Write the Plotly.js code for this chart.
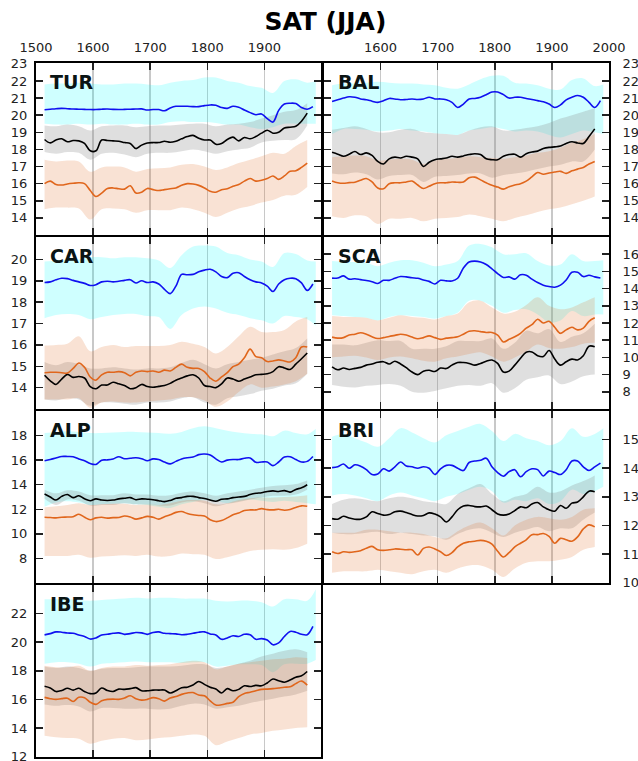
<!DOCTYPE html>
<html>
<head>
<meta charset="utf-8">
<script src="https://cdn.plot.ly/plotly-3.0.1.min.js"></script>
<style>html,body{margin:0;padding:0;background:#fff;}#chart{width:638px;height:761px;}</style>
</head>
<body>
<div id="chart"></div>
<script>
// ---- x positions (years) ----
const yearsLine = [1515,1525,1535,1545,1555,1565,1575,1585,1595,1605,1615,1625,1635,1645,1655,1665,1675,1685,1695,1705,1715,1725,1735,1745,1755,1765,1775,1785,1795,1805,1815,1825,1835,1845,1855,1865,1875,1885,1895,1905,1915,1925,1935,1945,1955,1965,1975];
const yearsBlue = [1515,1525,1535,1545,1555,1565,1575,1585,1595,1605,1615,1625,1635,1645,1655,1665,1675,1685,1695,1705,1715,1725,1735,1745,1755,1765,1775,1785,1795,1805,1815,1825,1835,1845,1855,1865,1875,1885,1895,1905,1915,1925,1935,1945,1955,1965,1975,1985];
const yearsBand = [1515,1535,1555,1575,1595,1615,1635,1655,1675,1695,1715,1735,1755,1775,1795,1815,1835,1855,1875,1895,1915,1935,1955,1975];
const yearsCyan = [1515,1535,1555,1575,1595,1615,1635,1655,1675,1695,1715,1735,1755,1775,1795,1815,1835,1855,1875,1895,1915,1935,1955,1975,1990];

// ---- top axis tick labels ----
const xTickVals = [1500,1600,1700,1800,1900,2000];
const xTickTextLeft = ['1500','1600','1700','1800','1900',''];
const xTickTextRight = ['','1600','1700','1800','1900','2000'];
const xGridVals = [1600,1700,1800,1900];

// ---- y tick labels per panel ----
const TUR_ticks = [14,15,16,17,18,19,20,21,22,23];
const BAL_ticks = [14,15,16,17,18,19,20,21,22,23];
const CAR_ticks = [14,15,16,17,18,19,20];
const SCA_ticks = [8,9,10,11,12,13,14,15,16];
const ALP_ticks = [8,10,12,14,16,18];
const BRI_ticks = [10,11,12,13,14,15];
const IBE_ticks = [12,14,16,18,20,22];

// ---- TUR ----
const TUR_blue = [20.32,20.35,20.38,20.40,20.38,20.36,20.35,20.34,20.33,20.33,20.35,20.36,20.34,20.33,20.34,20.35,20.36,20.37,20.30,20.33,20.33,20.26,20.42,20.52,20.52,20.52,20.50,20.50,20.56,20.60,20.58,20.45,20.40,20.52,20.46,20.30,20.15,20.03,20.07,19.80,19.60,20.28,20.65,20.70,20.68,20.45,20.35,20.50];
const TUR_black = [18.58,18.38,18.55,18.62,18.45,18.52,18.50,18.35,17.92,17.92,18.55,18.52,18.50,18.48,18.40,18.35,18.05,18.25,18.38,18.40,18.40,18.48,18.42,18.48,18.62,18.75,18.82,18.65,18.55,18.55,18.30,18.35,18.58,18.72,18.50,18.70,18.62,18.75,18.95,19.12,18.95,19.00,19.25,19.30,19.35,19.65,20.12];
const TUR_orange = [16.00,16.15,15.95,15.92,15.98,16.02,16.05,16.00,15.60,15.25,15.45,15.72,15.75,15.70,15.68,15.88,15.45,15.50,15.72,15.65,15.60,15.65,15.70,15.75,15.90,16.00,15.98,15.90,15.75,15.55,15.50,15.65,15.70,15.85,15.95,16.15,16.30,16.15,16.20,16.30,16.45,16.25,16.45,16.72,16.75,16.95,17.20];
const TUR_cyanHi = [21.8,21.85,21.85,21.9,21.85,21.8,21.8,21.85,21.85,21.8,21.75,21.9,22.0,22.05,22.2,22.2,22.0,21.9,21.7,21.6,21.3,22.0,22.1,21.9,22.0];
const TUR_cyanLo = [19.5,19.45,19.45,19.5,19.45,19.5,19.45,19.45,19.5,19.45,19.45,19.6,19.65,19.6,19.6,19.55,19.45,19.45,19.3,19.2,19.3,19.5,19.5,19.5,19.5];
const TUR_grayHi = [19.4,19.35,19.45,19.35,19.1,19.35,19.4,19.4,19.3,19.35,19.4,19.4,19.45,19.5,19.5,19.35,19.45,19.5,19.6,19.8,20.0,20.2,20.3,20.7];
const TUR_grayLo = [17.85,17.75,17.85,17.8,17.4,17.75,17.8,17.7,17.55,17.75,17.8,17.8,17.9,18.0,17.9,17.75,17.9,18.0,18.1,18.4,18.5,18.55,18.6,19.4];
const TUR_orHi = [17.4,17.3,17.35,17.3,16.7,16.95,17.0,16.95,16.7,16.85,16.9,16.95,17.1,17.15,17.0,16.8,16.95,17.2,17.4,17.6,17.8,17.75,18.2,18.55];
const TUR_orLo = [14.5,14.6,14.6,14.55,13.9,14.5,14.55,14.5,14.3,14.45,14.45,14.45,14.6,14.5,14.3,14.05,14.3,14.55,14.7,14.9,15.05,15.3,15.35,15.8];

// ---- BAL ----
const BAL_blue = [20.8,20.9,21.0,21.08,21.05,20.95,20.9,20.82,20.75,20.85,20.98,20.95,20.9,20.92,20.95,20.92,20.95,21.05,20.95,20.95,20.9,20.75,20.45,20.65,20.95,20.98,21.05,21.2,21.35,21.35,21.2,21.0,21.05,21.05,20.98,20.92,20.85,20.78,20.65,20.45,20.6,20.9,21.05,21.15,21.05,20.75,20.45,20.85];
const BAL_black = [17.83,17.72,17.6,17.72,17.88,17.7,17.8,17.65,17.3,17.15,17.45,17.55,17.5,17.6,17.55,17.45,17.0,17.25,17.4,17.45,17.5,17.6,17.55,17.62,17.7,17.75,17.7,17.45,17.4,17.4,17.6,17.7,17.72,17.55,17.75,17.85,17.9,18.05,18.12,18.15,18.2,18.35,18.45,18.38,18.35,18.75,19.2];
const BAL_orange = [16.16,16.05,16.02,16.06,16.08,16.2,16.3,16.1,15.75,15.7,16.0,16.05,16.05,16.1,16.15,15.92,15.72,15.85,16.0,16.05,16.05,16.1,16.08,16.1,16.35,16.38,16.22,16.05,15.9,15.8,15.68,15.82,15.92,16.0,16.15,16.4,16.65,16.55,16.62,16.68,16.72,16.6,16.75,16.85,16.95,17.15,17.3];
const BAL_cyanHi = [21.75,21.85,21.85,21.9,21.95,21.9,21.85,21.85,21.8,21.75,21.6,21.55,21.8,22.1,22.3,22.3,21.9,21.85,21.75,21.55,21.5,22.05,22.15,21.7,21.8];
const BAL_cyanLo = [18.9,19.2,19.2,19.15,19.05,19.1,19.2,19.1,19.05,18.95,18.9,18.85,19.1,19.2,19.3,19.2,19.05,19.1,19.05,18.85,18.7,18.9,19.1,19.0,18.9];
const BAL_grayHi = [19.15,19.25,19.35,19.2,19.0,19.0,19.15,19.2,19.0,18.95,18.9,18.85,19.1,19.3,19.35,19.1,19.15,19.25,19.35,19.55,19.8,20.0,20.2,20.4];
const BAL_grayLo = [16.6,16.55,16.65,16.55,16.25,16.45,16.5,16.5,16.1,16.4,16.45,16.5,16.6,16.6,16.35,16.5,16.6,16.7,16.85,17.0,17.1,17.3,17.3,18.0];
const BAL_orHi = [17.55,17.6,17.65,17.6,17.35,17.4,17.45,17.4,17.15,17.35,17.45,17.5,17.6,17.55,17.5,17.45,17.55,17.65,17.8,17.9,18.1,18.4,18.6,18.9];
const BAL_orLo = [14.1,14.0,14.15,14.1,13.65,13.95,13.95,14.0,13.8,13.95,14.0,14.05,14.2,14.1,13.95,13.8,14.0,14.15,14.35,14.5,14.6,14.8,15.0,15.25];

// ---- CAR ----
const CAR_blue = [18.92,18.95,19.05,19.12,19.1,19.02,18.95,18.88,18.78,18.82,18.95,18.98,18.95,18.98,19.02,19.05,18.9,19.0,18.92,18.95,18.85,18.6,18.4,18.75,19.3,19.28,19.3,19.42,19.5,19.54,19.42,19.2,19.15,19.35,19.38,19.2,19.05,18.95,18.9,18.75,18.5,18.85,19.05,19.12,19.1,18.9,18.55,18.85];
const CAR_black = [14.58,14.32,14.15,14.4,14.62,14.48,14.52,14.45,14.05,13.95,14.12,14.12,14.25,14.18,14.1,13.95,14.0,14.15,14.05,14.02,14.06,14.1,14.2,14.35,14.45,14.55,14.6,14.45,14.1,14.05,14.0,14.18,14.45,14.4,14.3,14.4,14.5,14.6,14.62,14.65,14.75,14.98,14.92,14.85,15.1,15.35,15.62];
const CAR_orange = [14.7,14.72,14.72,14.7,14.68,14.9,15.15,14.95,14.5,14.35,14.6,14.72,14.72,14.75,14.7,14.55,14.72,14.78,14.75,14.78,14.72,14.82,14.78,14.95,15.1,14.95,14.9,14.9,14.75,14.45,14.3,14.5,14.7,14.98,15.1,15.4,15.8,15.45,15.4,15.22,15.25,15.3,15.25,15.2,15.4,15.9,15.9];
const CAR_cyanHi = [19.9,19.95,20.0,20.0,20.1,20.1,20.05,20.1,20.1,20.05,19.95,19.6,20.2,20.6,20.65,20.6,20.3,20.2,20.0,19.9,19.65,20.3,20.25,19.95,19.9];
const CAR_cyanLo = [17.25,17.4,17.45,17.4,17.2,17.3,17.4,17.45,17.45,17.35,17.3,16.75,17.4,17.7,17.8,17.7,17.5,17.4,17.25,17.15,17.0,17.35,17.3,17.2,16.9];
const CAR_grayHi = [15.2,15.05,15.2,15.1,14.9,14.9,14.95,14.9,14.85,14.9,14.9,14.95,15.15,15.3,15.1,14.9,15.1,15.2,15.3,15.4,15.55,15.7,15.85,16.3];
const CAR_grayLo = [13.45,13.4,13.5,13.45,13.15,13.3,13.3,13.25,13.2,13.3,13.3,13.35,13.5,13.55,13.3,13.2,13.5,13.6,13.7,13.85,13.95,14.1,14.2,14.65];
const CAR_orHi = [15.97,16.0,16.05,16.4,15.7,15.9,16.0,15.9,15.95,15.95,15.95,16.0,16.15,16.05,15.9,15.6,15.9,16.4,16.85,16.6,16.6,16.7,17.1,17.3];
const CAR_orLo = [13.45,13.45,13.45,13.5,13.05,13.3,13.35,13.3,13.3,13.35,13.4,13.45,13.55,13.55,13.4,13.1,13.35,13.8,14.15,14.0,14.05,14.15,14.3,14.65];

// ---- SCA ----
const SCA_blue = [14.61,14.62,14.74,14.55,14.57,14.52,14.47,14.4,14.3,14.48,14.48,14.6,14.7,14.68,14.63,14.6,14.5,14.42,14.27,14.48,14.45,14.44,14.6,15.2,15.55,15.6,15.55,15.4,15.15,14.87,14.65,14.68,14.55,14.8,14.78,14.55,14.35,14.2,14.12,14.08,14.2,14.5,14.95,14.95,14.7,14.78,14.68,14.62];
const SCA_black = [9.45,9.28,9.38,9.3,9.36,9.42,9.55,9.62,9.72,9.75,9.62,9.78,9.62,9.4,9.15,9.0,9.2,9.25,9.18,9.38,9.35,9.55,9.7,9.7,9.65,9.55,9.65,9.78,9.85,9.65,9.15,9.2,9.55,9.95,10.3,10.32,10.1,10.05,10.4,9.9,9.55,9.75,9.9,9.85,10.1,10.65,10.62];
const SCA_orange = [11.18,11.12,11.15,11.3,11.35,11.43,11.35,11.2,11.1,11.15,11.22,11.28,11.35,11.3,11.18,11.08,11.15,11.25,11.15,11.05,11.12,11.15,11.2,11.35,11.52,11.55,11.5,11.45,11.45,11.3,10.9,11.05,11.2,11.4,11.7,11.9,12.22,12.0,12.1,11.75,11.4,11.6,11.75,11.6,11.7,12.1,12.3];
const SCA_cyanHi = [15.6,15.55,15.55,15.5,15.3,15.5,15.65,15.65,15.5,15.3,15.4,15.6,16.5,16.6,16.4,16.0,16.0,16.05,15.6,15.35,15.4,16.0,15.6,15.6,15.65];
const SCA_cyanLo = [12.45,12.4,12.35,12.3,12.15,12.35,12.45,12.4,12.35,12.25,12.4,12.6,13.3,13.3,13.0,12.6,12.75,12.8,12.5,12.05,12.15,12.7,12.4,12.5,12.5];
const SCA_grayHi = [10.75,10.75,10.7,10.85,11.0,10.95,10.95,10.5,10.5,10.5,10.65,10.95,10.95,10.95,11.1,10.5,10.85,11.55,11.4,11.65,10.9,11.2,11.4,11.95];
const SCA_grayLo = [8.4,8.3,8.25,8.35,8.4,8.45,8.35,8.0,7.95,8.05,8.2,8.35,8.4,8.35,8.5,7.95,8.2,8.7,8.85,8.95,8.45,8.6,8.9,9.0];
const SCA_orHi = [12.4,12.35,12.35,12.3,12.15,12.3,12.45,12.35,12.3,12.2,12.4,12.55,13.2,13.3,12.9,12.55,12.65,13.05,13.5,13.0,12.8,12.9,13.2,13.5];
const SCA_orLo = [10.0,10.05,10.1,10.0,9.85,10.0,10.05,9.95,9.8,9.75,9.95,10.05,10.2,10.3,10.05,9.75,10.0,10.35,10.75,10.55,10.5,10.6,10.8,10.85];

// ---- ALP ----
const ALP_blue = [15.95,16.05,16.18,16.3,16.3,16.28,16.1,15.95,15.72,15.65,16.0,16.02,16.1,16.28,16.12,16.15,16.2,16.12,15.95,16.1,16.05,15.85,15.7,15.9,16.1,16.2,16.25,16.45,16.5,16.42,16.1,15.85,16.0,16.05,16.05,16.15,16.18,15.82,15.85,15.85,15.55,15.85,16.25,16.28,16.05,15.85,15.9,16.3];
const ALP_black = [13.24,13.0,12.75,13.05,13.2,12.95,13.1,12.85,12.7,12.85,12.75,12.72,12.75,12.85,12.9,12.95,12.78,12.85,12.82,12.78,12.7,12.62,12.72,12.9,12.95,13.05,13.05,12.95,12.88,12.75,12.65,12.82,12.85,12.95,13.0,13.05,13.2,13.3,13.35,13.45,13.5,13.45,13.52,13.4,13.62,13.75,14.0];
const ALP_orange = [11.35,11.33,11.3,11.35,11.37,11.4,11.6,11.35,11.15,11.3,11.35,11.28,11.32,11.33,11.45,11.38,11.2,11.3,11.42,11.35,11.2,11.4,11.55,11.75,11.82,11.65,11.55,11.5,11.45,11.15,11.0,11.08,11.3,11.55,11.7,11.9,11.95,11.95,12.05,11.97,11.95,12.0,11.92,11.98,12.15,12.28,12.25];
const ALP_cyanHi = [18.2,18.3,18.35,18.3,18.2,18.2,18.25,18.3,18.3,18.25,18.2,18.15,18.3,18.6,18.75,18.6,18.4,18.25,18.15,18.1,17.95,18.4,18.2,18.1,18.55];
const ALP_cyanLo = [12.2,12.55,12.65,12.55,12.35,12.4,12.45,12.5,12.4,12.35,12.2,12.1,12.4,12.6,12.75,12.7,12.5,12.65,12.8,12.7,12.6,12.7,12.6,12.5,12.4];
const ALP_grayHi = [13.6,13.3,13.55,13.45,13.15,13.15,13.15,13.3,13.2,13.2,13.1,13.15,13.35,13.45,13.3,13.1,13.3,13.45,13.6,13.75,13.9,13.95,14.05,14.35];
const ALP_grayLo = [12.85,12.35,12.8,12.7,12.3,12.35,12.35,12.5,12.4,12.4,12.3,12.3,12.55,12.65,12.5,12.25,12.45,12.6,12.8,12.95,13.1,13.1,13.2,13.6];
const ALP_orHi = [12.15,12.25,12.35,12.5,12.35,12.4,12.45,12.45,12.35,12.4,12.35,12.5,12.7,12.75,12.7,12.4,12.5,12.75,12.9,12.95,12.95,13.0,13.05,13.15];
const ALP_orLo = [8.2,8.2,8.2,8.3,8.05,8.15,8.2,8.25,8.2,8.3,8.15,8.2,8.4,8.35,8.3,7.95,8.1,8.35,8.6,8.7,8.75,8.7,8.85,9.2];

// ---- BRI ----
const BRI_blue = [14.02,14.05,14.15,14.0,14.12,14.07,13.95,13.78,13.8,13.98,13.9,14.05,14.22,14.08,14.05,14.0,14.05,14.0,13.78,13.98,14.1,14.1,14.0,13.92,14.2,14.25,14.28,14.35,14.05,13.85,13.72,13.88,13.95,13.7,13.88,13.98,13.95,13.73,13.9,13.85,13.78,13.95,14.25,14.25,14.05,13.92,14.05,14.18];
const BRI_black = [12.24,12.22,12.32,12.26,12.22,12.22,12.3,12.48,12.42,12.36,12.38,12.48,12.5,12.45,12.38,12.33,12.35,12.44,12.4,12.3,12.12,12.3,12.55,12.68,12.7,12.66,12.65,12.68,12.55,12.4,12.36,12.4,12.52,12.65,12.62,12.75,12.8,12.65,12.55,12.5,12.7,12.6,12.78,12.82,13.0,13.2,13.18];
const BRI_orange = [11.08,11.02,11.08,11.06,11.08,11.12,11.2,11.27,11.15,11.13,11.15,11.18,11.17,11.15,11.15,10.97,11.2,11.25,11.18,11.08,10.95,11.05,11.25,11.38,11.43,11.45,11.48,11.45,11.35,11.1,10.9,11.05,11.25,11.38,11.5,11.68,11.68,11.72,11.62,11.38,11.55,11.5,11.45,11.6,11.88,12.02,11.95];
const BRI_cyanHi = [15.1,15.2,15.05,14.9,14.75,15.05,15.4,15.25,15.05,14.9,15.15,15.3,15.45,15.55,15.3,14.95,15.2,15.05,14.95,14.8,14.95,15.4,15.1,15.2,15.4];
const BRI_cyanLo = [13.05,13.1,13.05,12.95,12.85,13.05,13.15,13.05,12.95,12.85,13.0,13.1,13.25,13.35,13.2,12.8,12.9,12.85,12.95,12.75,12.85,13.25,13.1,13.2,13.35];
const BRI_grayHi = [12.75,12.9,12.95,12.9,12.85,12.95,13.0,12.95,12.85,12.8,12.75,13.1,13.3,13.45,13.1,12.85,13.0,13.1,13.35,13.15,13.2,13.4,13.55,13.75];
const BRI_grayLo = [11.75,11.7,11.7,11.75,11.78,11.7,11.75,11.7,11.65,11.62,11.5,11.7,11.85,11.9,11.75,11.6,11.75,11.85,11.95,11.8,11.9,11.9,12.2,12.45];
const BRI_orHi = [11.75,11.75,11.75,11.85,11.85,11.8,11.75,11.75,11.7,11.6,11.55,11.8,12.0,12.1,11.9,11.65,12.0,12.2,12.3,12.25,12.2,12.3,12.55,12.6];
const BRI_orLo = [10.35,10.4,10.4,10.4,10.45,10.4,10.35,10.3,10.4,10.45,10.35,10.5,10.6,10.6,10.45,10.2,10.5,10.7,10.75,10.75,10.8,10.9,11.15,11.25];

// ---- IBE ----
const IBE_blue = [20.51,20.6,20.72,20.7,20.64,20.62,20.5,20.4,20.22,20.3,20.5,20.55,20.62,20.65,20.55,20.6,20.68,20.65,20.55,20.68,20.72,20.62,20.6,20.58,20.52,20.55,20.62,20.7,20.72,20.58,20.5,20.2,20.3,20.45,20.4,20.55,20.52,20.2,20.25,20.15,19.82,19.95,20.4,20.75,20.7,20.55,20.52,21.1];
const IBE_black = [16.92,16.8,16.55,16.62,16.78,16.65,16.78,16.55,16.4,16.45,16.8,16.62,16.55,16.72,16.7,16.75,16.82,16.6,16.6,16.65,16.65,16.65,16.45,16.6,16.82,16.85,17.0,17.25,17.05,16.85,16.72,16.45,16.75,16.6,16.7,16.95,16.9,16.98,16.95,17.15,17.42,17.3,17.2,17.35,17.55,17.65,17.95];
const IBE_orange = [16.14,16.05,16.0,16.05,16.08,15.85,16.15,16.12,15.8,15.65,15.9,16.0,16.02,16.0,16.1,16.25,16.05,15.95,16.0,16.12,16.05,15.88,16.1,16.2,16.35,16.45,16.48,16.3,16.25,15.9,15.6,15.62,15.72,15.8,16.2,16.42,16.5,16.6,16.7,16.72,16.75,16.8,16.85,16.88,17.1,17.28,17.0];
const IBE_cyanHi = [23.0,23.0,23.0,22.95,22.9,22.95,23.0,23.05,23.1,23.05,23.1,23.1,23.05,23.05,23.05,22.9,22.85,22.9,22.9,22.8,22.5,23.0,23.0,22.9,23.7];
const IBE_cyanLo = [18.5,18.6,18.6,18.5,18.3,18.5,18.55,18.6,18.65,18.6,18.6,18.6,18.55,18.6,18.6,18.3,18.35,18.45,18.45,18.4,17.9,18.45,18.5,18.5,18.75];
const IBE_grayHi = [18.3,18.2,18.3,18.2,18.0,18.15,18.2,18.2,18.25,18.3,18.3,18.3,18.35,18.45,18.45,18.2,18.3,18.5,18.7,19.0,19.2,19.4,19.5,19.3];
const IBE_grayLo = [15.65,15.55,15.6,15.5,15.15,15.4,15.4,15.35,15.35,15.35,15.3,15.35,15.55,15.7,15.65,15.35,15.45,15.55,15.75,15.9,16.05,16.2,16.35,16.6];
const IBE_orHi = [18.35,18.25,18.25,18.35,18.0,18.2,18.3,18.3,18.4,18.35,18.4,18.45,18.6,18.7,18.6,18.1,18.3,18.5,18.6,18.7,18.8,18.85,18.95,18.9];
const IBE_orLo = [13.45,13.35,13.3,13.25,12.9,13.1,13.25,13.3,13.15,13.2,13.3,13.35,13.45,13.55,13.45,12.8,13.05,13.3,13.55,13.65,13.8,13.9,14.0,14.05];

// ---- panel assembly (layout only, data from the arrays above) ----
const panels = [
  {name:'TUR', col:0, row:0, yr:[13,23.05], ticks:TUR_ticks, blue:TUR_blue, black:TUR_black, orange:TUR_orange, cHi:TUR_cyanHi, cLo:TUR_cyanLo, gHi:TUR_grayHi, gLo:TUR_grayLo, oHi:TUR_orHi, oLo:TUR_orLo},
  {name:'BAL', col:1, row:0, yr:[13,23.05], ticks:BAL_ticks, blue:BAL_blue, black:BAL_black, orange:BAL_orange, cHi:BAL_cyanHi, cLo:BAL_cyanLo, gHi:BAL_grayHi, gLo:BAL_grayLo, oHi:BAL_orHi, oLo:BAL_orLo},
  {name:'CAR', col:0, row:1, yr:[13,21.05], ticks:CAR_ticks, blue:CAR_blue, black:CAR_black, orange:CAR_orange, cHi:CAR_cyanHi, cLo:CAR_cyanLo, gHi:CAR_grayHi, gLo:CAR_grayLo, oHi:CAR_orHi, oLo:CAR_orLo},
  {name:'SCA', col:1, row:1, yr:[7,17], ticks:SCA_ticks, blue:SCA_blue, black:SCA_black, orange:SCA_orange, cHi:SCA_cyanHi, cLo:SCA_cyanLo, gHi:SCA_grayHi, gLo:SCA_grayLo, oHi:SCA_orHi, oLo:SCA_orLo},
  {name:'ALP', col:0, row:2, yr:[6,20], ticks:ALP_ticks, blue:ALP_blue, black:ALP_black, orange:ALP_orange, cHi:ALP_cyanHi, cLo:ALP_cyanLo, gHi:ALP_grayHi, gLo:ALP_grayLo, oHi:ALP_orHi, oLo:ALP_orLo},
  {name:'BRI', col:1, row:2, yr:[9.99,16], ticks:BRI_ticks, blue:BRI_blue, black:BRI_black, orange:BRI_orange, cHi:BRI_cyanHi, cLo:BRI_cyanLo, gHi:BRI_grayHi, gLo:BRI_grayLo, oHi:BRI_orHi, oLo:BRI_orLo},
  {name:'IBE', col:0, row:3, yr:[11.97,24], ticks:IBE_ticks, blue:IBE_blue, black:IBE_black, orange:IBE_orange, cHi:IBE_cyanHi, cLo:IBE_cyanLo, gHi:IBE_grayHi, gLo:IBE_grayLo, oHi:IBE_orHi, oLo:IBE_orLo}
];

const FONT = 'DejaVu Sans, Liberation Sans, sans-serif';
const traces = [];
const layout = {
  width:638, height:761,
  margin:{l:36, r:29, t:63, b:4},
  paper_bgcolor:'#fff', plot_bgcolor:'rgba(0,0,0,0)',
  showlegend:false,
  title:{text:'<b>SAT (JJA)</b>', font:{family:FONT, size:25, color:'#000'}, xref:'container', x:0.51, xanchor:'center', yref:'container', y:0.972, yanchor:'middle'},
  annotations:[]
};

// domains leave a 2px gap so that the outward-drawn borders of neighbours coincide
const rowDomains = [[0.75216,1],[0.50144,0.74928],[0.25072,0.49856],[0,0.24784]];
const colDomains = [[0,0.49825],[0.50175,1]];

function band(xs, lo, hi, color, xa, ya){
  traces.push({x:xs, y:lo, xaxis:xa, yaxis:ya, type:'scatter', mode:'lines', line:{width:0, shape:'spline', smoothing:1}, hoverinfo:'skip', showlegend:false});
  traces.push({x:xs, y:hi, xaxis:xa, yaxis:ya, type:'scatter', mode:'lines', line:{width:0, shape:'spline', smoothing:1}, fill:'tonexty', fillcolor:color, hoverinfo:'skip', showlegend:false});
}
function line(xs, ys, color, xa, ya){
  traces.push({x:xs, y:ys, xaxis:xa, yaxis:ya, type:'scatter', mode:'lines', line:{width:1.6, color:color, shape:'spline', smoothing:1}, hoverinfo:'skip', showlegend:false});
}

panels.forEach((p, i) => {
  const n = i + 1;
  const xa = 'x' + (n === 1 ? '' : n);
  const ya = 'y' + (n === 1 ? '' : n);
  const xkey = 'xaxis' + (n === 1 ? '' : n);
  const ykey = 'yaxis' + (n === 1 ? '' : n);
  const top = p.row === 0;

  band(yearsCyan, p.cLo, p.cHi, 'rgba(0,255,255,0.19)', xa, ya);
  band(yearsBand, p.gLo, p.gHi, 'rgba(140,140,140,0.28)', xa, ya);
  band(yearsBand, p.oLo, p.oHi, 'rgba(225,110,40,0.2)', xa, ya);
  line(yearsBlue, p.blue, '#1010f0', xa, ya);
  line(yearsLine, p.black, '#000000', xa, ya);
  line(yearsLine, p.orange, '#e0661c', xa, ya);

  layout[xkey] = {
    domain: colDomains[p.col], range:[1500,2000], anchor: ya,
    side: top ? 'top' : 'bottom',
    tickmode:'array',
    tickvals: top ? xTickVals : xGridVals,
    ticktext: top ? (p.col === 0 ? xTickTextLeft : xTickTextRight) : undefined,
    showticklabels: top,
    ticks:'inside', ticklen:7, tickwidth:1.5, tickcolor:'#222',
    showgrid:true, gridcolor:'#c8c8c8', gridwidth:1.5,
    showline:true, linecolor:'#000', linewidth:2, mirror:'ticks',
    zeroline:false, fixedrange:true,
    tickfont:{family:FONT, size:13, color:'#222'},
    ticklabelstandoff: 4
  };
  layout[ykey] = {
    domain: rowDomains[p.row], range:p.yr, anchor: xa,
    side: p.col === 0 ? 'left' : 'right',
    tickmode:'array', tickvals:p.ticks,
    ticks:'inside', ticklen:7, tickwidth:1.5, tickcolor:'#222',
    showgrid:false, zeroline:false,
    showline:true, linecolor:'#000', linewidth:2, mirror:'ticks',
    fixedrange:true, ticklabeloverflow:'allow',
    tickfont:{family:FONT, size:13, color:'#222'},
    ticklabelstandoff: p.col === 0 ? 4 : 9
  };
  layout.annotations.push({
    text:'<b>' + p.name + '</b>', xref: xa + ' domain', yref: ya + ' domain',
    x:0, y:1, xanchor:'left', yanchor:'top', xshift:12, yshift:-6,
    showarrow:false, font:{family:FONT, size:19, color:'#0a1414'}
  });
});

Plotly.newPlot('chart', traces, layout, {staticPlot:true, displayModeBar:false});
</script>
</body>
</html>
